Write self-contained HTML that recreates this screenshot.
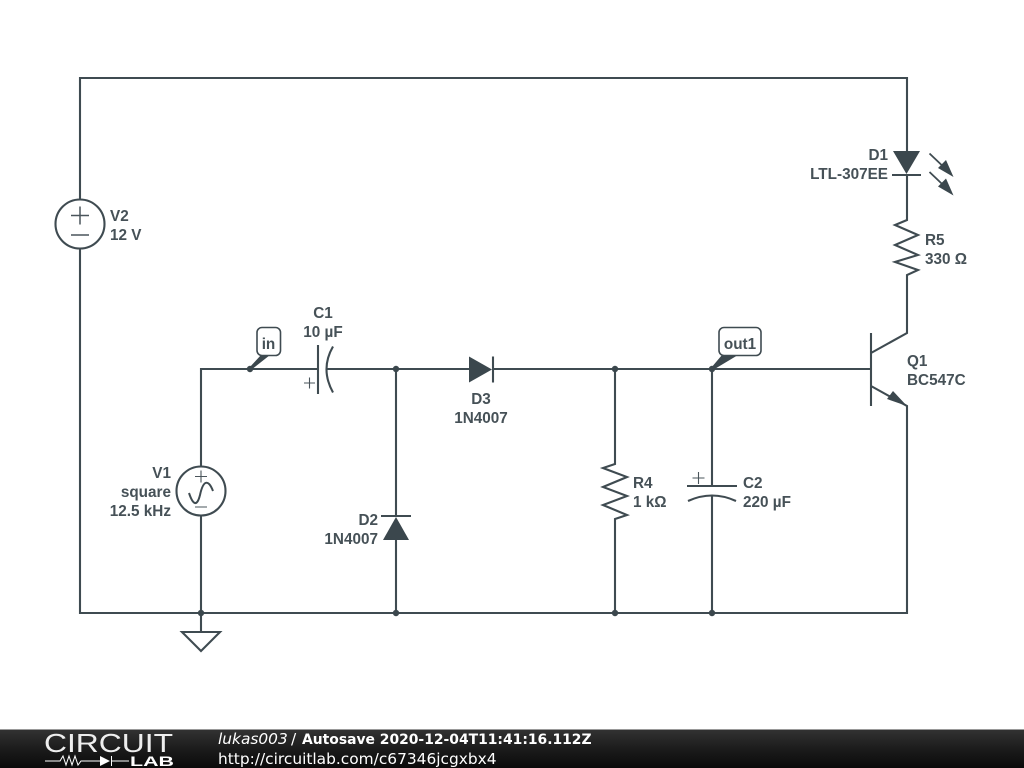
<!DOCTYPE html>
<html><head><meta charset="utf-8"><style>
html,body{margin:0;padding:0;background:#fff;width:1024px;height:768px;overflow:hidden}
svg{display:block}
.w{fill:none;stroke:#3f4b51;stroke-width:2.1;stroke-linejoin:miter}
.p{fill:none;stroke:#4a555b;stroke-width:1.1}
.f{fill:#3b474d;stroke:none}
.t{font-family:"Liberation Sans",sans-serif;font-weight:bold;font-size:15.3px;fill:#465157}
.e{text-anchor:end}
.m{text-anchor:middle}
.ft{font-family:"DejaVu Sans",sans-serif;font-size:15.4px;fill:#fff}
</style></head><body>
<svg width="1024" height="768" viewBox="0 0 1024 768" xmlns="http://www.w3.org/2000/svg">
<defs><linearGradient id="g" x1="0" y1="0" x2="0" y2="1"><stop offset="0" stop-color="#333"/><stop offset=".5" stop-color="#1c1c1c"/><stop offset="1" stop-color="#0a0a0a"/></linearGradient></defs>
<rect width="1024" height="768" fill="#fff"/>
<path class="w" d="M80 199.500V78H907V152M907 175V220L895 225L918 235L895 245L918 255L895 262L918 270L907 275V333L871 353M871 333V406M871 386L907 406V613H80V248.500"/>
<path class="w" d="M201 467V369H318M327 369H469M493 369H871M201 516V632"/>
<path class="w" d="M318 345V394M333 346.500Q320 369 333 392.500"/>
<path class="p" d="M304 383H315M309.500 377.500V388.500"/>
<path class="f" d="M469 356.500V382.500L492 369.500Z"/><path class="w" d="M493 356.500V382.500"/>
<path class="w" d="M396 369V517M381 516H411M396 540V613"/><path class="f" d="M396 517L383 540H409Z"/>
<path class="w" d="M615 369V464L603 468L627 477L603 487L627 496L603 505L627 515L615 519V613"/>
<path class="w" d="M712 369V486M687 486H737M688 501Q712 490 736 501M712 496V613"/>
<path class="p" d="M692.500 478H704.500M698.500 472V484"/>
<path class="f" d="M893 151H920L906.500 174Z"/><path class="w" d="M892 175H921"/>
<path class="w" style="stroke-width:1.800" d="M929.500 153.500L950 173M929.500 172L950 191.500"/>
<path class="f" d="M953.500 177L938 168L946 160ZM953.500 195.500L938 186.500L946 178.500Z"/>
<path class="f" d="M907 406L887 399L893 391Z"/>
<circle class="w" cx="80" cy="224" r="24.500" fill="#fff"/>
<path class="p" style="stroke-width:1.500" d="M71 215.500H89M80 206.500V224.500M71 235H89"/>
<circle class="w" cx="201" cy="491" r="24.500"/>
<path class="p" d="M195 476.500H207M201 470.500V482.500M195 507H207"/>
<path class="w" style="stroke-width:2" d="M189 493C193 505 197 507 200 495C203 481 208 478 213 491"/>
<path class="w" d="M182 632H220L201 651Z"/>
<g class="f"><circle cx="250" cy="369" r="3.200"/><circle cx="396" cy="369" r="3.200"/><circle cx="615" cy="369" r="3.200"/><circle cx="712" cy="369" r="3.200"/><circle cx="201" cy="613" r="3.200"/><circle cx="396" cy="613" r="3.200"/><circle cx="615" cy="613" r="3.200"/><circle cx="712" cy="613" r="3.200"/>
<path d="M249 368L261 355H270L251 370Z"/><path d="M711 368L722 355H738L713 370Z"/></g>
<rect x="257" y="327.500" width="23.500" height="28" rx="5" fill="#fff" stroke="#3f4b51" stroke-width="1.600"/>
<rect x="719" y="327.500" width="42" height="28" rx="5" fill="#fff" stroke="#3f4b51" stroke-width="1.600"/>
<text class="t m" x="268.500" y="349">in</text>
<text class="t m" x="740" y="349">out1</text>
<text class="t e" x="888" y="160">D1</text><text class="t e" x="888" y="179">LTL-307EE</text>
<text class="t" x="925" y="245">R5</text><text class="t" x="925" y="264">330 Ω</text>
<text class="t" x="907" y="366">Q1</text><text class="t" x="907" y="385">BC547C</text>
<text class="t" x="110" y="221">V2</text><text class="t" x="110" y="240">12 V</text>
<text class="t m" x="323" y="318">C1</text><text class="t m" x="323" y="337">10 µF</text>
<text class="t m" x="481" y="404">D3</text><text class="t m" x="481" y="423">1N4007</text>
<text class="t e" x="171" y="478">V1</text><text class="t e" x="171" y="497">square</text><text class="t e" x="171" y="516">12.5 kHz</text>
<text class="t e" x="378" y="525">D2</text><text class="t e" x="378" y="544">1N4007</text>
<text class="t" x="633" y="488">R4</text><text class="t" x="633" y="507">1 kΩ</text>
<text class="t" x="743" y="488">C2</text><text class="t" x="743" y="507">220 µF</text>
<rect x="0" y="729" width="1024" height="39" fill="url(#g)"/>
<rect x="0" y="729" width="1024" height="1" fill="#999"/>
<text x="44" y="752" font-family="Liberation Sans,sans-serif" font-size="26" fill="#eee" textLength="129" lengthAdjust="spacingAndGlyphs">CIRCUIT</text>
<path d="M45 761H60L63 756L66 765L69 756L72 765L75 756L78 765L81 761H100M111 761H129" fill="none" stroke="#fff" stroke-width="1"/>
<path d="M100 756V766L110 761Z M111 756H112V766H111Z" fill="#fff"/>
<text x="130" y="766" font-family="Liberation Sans,sans-serif" font-weight="bold" font-size="14" fill="#fff" textLength="44" lengthAdjust="spacingAndGlyphs">LAB</text>
<text class="ft" x="218" y="744" font-style="italic">lukas003</text>
<text class="ft" x="291" y="744">/</text>
<text class="ft" x="302" y="744" style="font-size:13.9px;font-weight:bold">Autosave 2020-12-04T11:41:16.112Z</text>
<text class="ft" x="218" y="764">http://circuitlab.com/c67346jcgxbx4</text>
</svg>
</body></html>
